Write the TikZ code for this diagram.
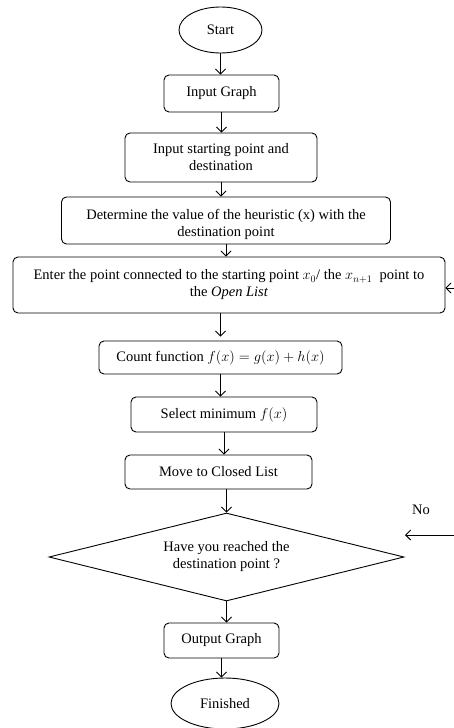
\documentclass[tikz,border=0pt]{standalone}
\usepackage{fontspec}
\setmainfont{Liberation Serif}
\usetikzlibrary{shapes.geometric,arrows.meta}
\newcommand\fsz{\fontsize{14.5}{17}\selectfont}
\begin{document}
\begin{tikzpicture}[x=1pt,y=-1pt,
  base/.style={draw,line width=0.9pt,inner sep=0pt,align=center,font=\fsz},
  box/.style={base,rounded corners=5pt},
  term/.style={base,ellipse},
  decision/.style={base,diamond,aspect=4.03},
  lbl/.style={inner sep=0pt,align=center,font=\fsz},
  arr/.style={line width=0.9pt,-{Straight Barb[length=5pt,width=10pt]}}]
\useasboundingbox (0,0) rectangle (454,728);
\node[term,minimum width=83,minimum height=46] (start) at (220.5,30) {Start};
\node[box,minimum width=115,minimum height=37] (ig) at (221.5,93.5) {Input Graph};
\node[box,minimum width=192,minimum height=49] (isp) at (221,157.5) {Input starting point and\\destination};
\node[box,minimum width=329,minimum height=47] (det) at (226,220.5) {};
\node[lbl] (dettext) at (226,224) {Determine the value of the heuristic (x) with the\\destination point};
\node[box,minimum width=432,minimum height=56] (enter) at (229,285) {Enter the point connected to the starting point $x_0$/ the $x_{n+1}$\ \ point to\\the \textit{Open List}};
\node[box,minimum width=243,minimum height=33] (count) at (220.5,357.5) {Count function $f(x)=g(x)+h(x)$};
\node[box,minimum width=186,minimum height=35] (sel) at (224,414.5) {Select minimum $f(x)$};
\node[box,minimum width=187,minimum height=34] (move) at (218.5,472) {Move to Closed List};
\node[decision,minimum width=355,minimum height=88] (dec) at (226.5,557) {Have you reached the\\destination point ?};
\node[box,minimum width=115,minimum height=35] (out) at (221.5,640.5) {Output Graph};
\node[term,minimum width=108,minimum height=51] (fin) at (225,703.5) {Finished};
\node[lbl] (no) at (421,510) {No};
\coordinate (nofrom) at (454,535);
\coordinate (noto) at (405,535);
\coordinate (efrom) at (454,288);
\draw[arr] (start.south) -- (start.south |- ig.north);
\draw[arr] (ig.south) -- (ig.south |- isp.north);
\draw[arr] (isp.south) -- (isp.south |- det.north);
\draw[arr] (det.south) -- (det.south |- enter.north);
\draw[arr,shorten >=4pt] (count.north |- enter.south) -- (count.north);
\draw[arr] (count.south) -- (count.south |- sel.north);
\draw[arr] (sel.south) -- (sel.south |- move.north);
\draw[arr] (move.south -| dec.north) -- (dec.north);
\draw[arr] (dec.south) -- (dec.south |- out.north);
\draw[arr] (out.south) -- (out.south |- fin.north);
\draw[arr] (nofrom) -- (noto);
\draw[arr] (efrom) -- (enter.east |- efrom);
\end{tikzpicture}
\end{document}
